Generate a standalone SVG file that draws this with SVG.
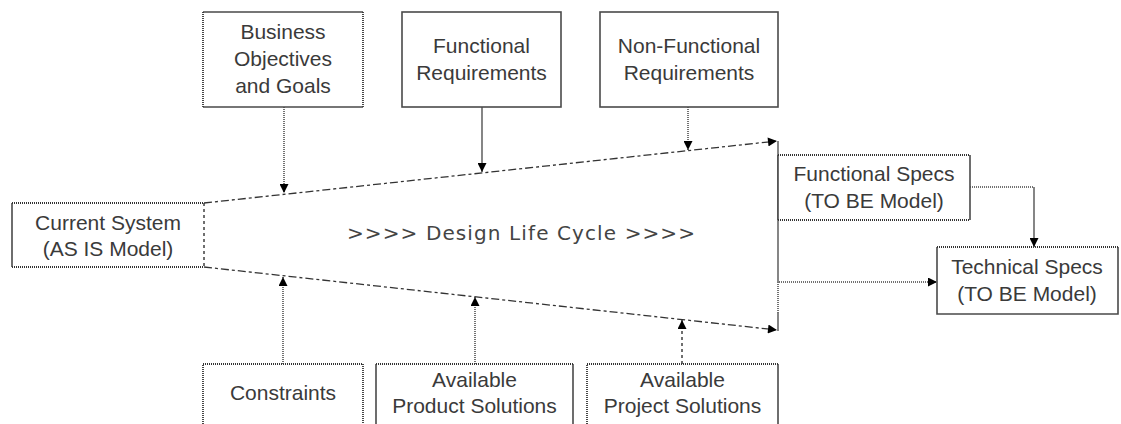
<svg xmlns="http://www.w3.org/2000/svg" width="1121" height="424" viewBox="0 0 1121 424">
<style>
.bg{fill:#fff;stroke:none}
.sol{fill:none;stroke:#4a4a4a;stroke-width:1.6}
.dot{fill:none;stroke:#333;stroke-width:1.8;stroke-dasharray:1 1}
.lbl{font-family:"Liberation Sans",Arial,sans-serif;font-size:21px;fill:#3a3a3a;text-anchor:middle}
.c{fill:none;stroke:#444;stroke-width:1.3}
.cd{fill:none;stroke:#444;stroke-width:1.5;stroke-dasharray:1 1}
.cdash{fill:none;stroke:#333;stroke-width:1.4;stroke-dasharray:3 3}
.fun{fill:none;stroke:#333;stroke-width:1.3;stroke-dasharray:8 3 3 3}
.title{font-family:"DejaVu Sans",Verdana,sans-serif;font-size:20px;fill:#444}
</style>
<defs>
<marker id="ah" viewBox="0 0 10 10" refX="10" refY="5" markerWidth="11" markerHeight="9" markerUnits="userSpaceOnUse" orient="auto">
<path d="M0,0 L10,5 L0,10 z" fill="#000"/>
</marker>
</defs>
<rect width="1121" height="424" fill="#fff"/>

<g id="connectors">
<path class="fun" d="M204,203 L777,141" marker-end="url(#ah)"/>
<path class="fun" d="M204,267 L777,330" marker-end="url(#ah)"/>
<path class="c" d="M778,141 L778,282"/>
<path class="cd" d="M778,282 L778,313"/>
<path class="c" d="M778,313 L778,331"/>
<path class="cd" d="M284,107 L284,193" marker-end="url(#ah)"/>
<path class="c" d="M482,107 L482,172" marker-end="url(#ah)"/>
<path class="cd" d="M688,107 L688,150" marker-end="url(#ah)"/>
<path class="cd" d="M283,364 L283,277" marker-end="url(#ah)"/>
<path class="cd" d="M475,364 L475,297" marker-end="url(#ah)"/>
<path class="cdash" d="M682,364 L682,320" marker-end="url(#ah)"/>
<path class="cd" d="M779,282 L937,282" marker-end="url(#ah)"/>
<path class="cd" d="M970,187 L1034,187"/>
<path class="c" d="M1034,187 L1034,247" marker-end="url(#ah)"/>
</g>

<g id="business-objectives">
<rect class="bg" x="203" y="12" width="160" height="95"/>
<path class="sol" d="M203,12 H363 M203,107 H363"/>
<path class="dot" d="M203,12 V107 M363,12 V107"/>
<text class="lbl" x="283" y="39">Business</text>
<text class="lbl" x="283" y="66">Objectives</text>
<text class="lbl" x="283" y="93">and Goals</text>
</g>

<g id="functional-requirements">
<rect class="bg sol" x="402" y="12" width="159" height="95"/>
<text class="lbl" x="481.5" y="53">Functional</text>
<text class="lbl" x="481.5" y="80">Requirements</text>
</g>

<g id="non-functional-requirements">
<rect class="bg sol" x="600" y="12" width="178" height="95"/>
<text class="lbl" x="689" y="53">Non-Functional</text>
<text class="lbl" x="689" y="80">Requirements</text>
</g>

<g id="current-system">
<rect class="bg" x="12" y="203" width="192" height="64"/>
<path class="sol" d="M12,203 V267"/>
<path class="dot" d="M12,203 H204 M12,267 H204"/>
<path class="cdash" d="M204,203 V267"/>
<text class="lbl" x="108" y="230">Current System</text>
<text class="lbl" x="108" y="256">(AS IS Model)</text>
</g>

<g id="design-life-cycle">
<text class="title" x="347" y="240" textLength="348" lengthAdjust="spacing">&gt;&gt;&gt;&gt; Design Life Cycle &gt;&gt;&gt;&gt;</text>
</g>

<g id="functional-specs">
<rect class="bg" x="778" y="155" width="192" height="65"/>
<path class="sol" d="M778,155 V220 M970,155 V220"/>
<path class="dot" d="M778,155 H970 M778,220 H970"/>
<text class="lbl" x="874" y="181">Functional Specs</text>
<text class="lbl" x="874" y="208">(TO BE Model)</text>
</g>

<g id="technical-specs">
<rect class="bg" x="937" y="247" width="181" height="67"/>
<path class="sol" d="M937,247 V314 H1118 V247"/>
<path class="dot" d="M937,247 H1118"/>
<text class="lbl" x="1027" y="274">Technical Specs</text>
<text class="lbl" x="1027" y="301">(TO BE Model)</text>
</g>

<g id="constraints">
<rect class="bg" x="203" y="364" width="160" height="80"/>
<path class="dot" d="M203,440 V364 H363 V440"/>
<text class="lbl" x="283" y="400">Constraints</text>
</g>

<g id="available-product-solutions">
<rect class="bg" x="376" y="364" width="197" height="80"/>
<path class="sol" d="M376,440 V364 M573,364 V440"/>
<path class="dot" d="M376,364 H573"/>
<text class="lbl" x="474.5" y="387">Available</text>
<text class="lbl" x="474.5" y="413">Product Solutions</text>
</g>

<g id="available-project-solutions">
<rect class="bg" x="587" y="364" width="191" height="80"/>
<path class="sol" d="M778,364 V440"/>
<path class="dot" d="M587,440 V364 H778"/>
<text class="lbl" x="682.5" y="387">Available</text>
<text class="lbl" x="682.5" y="413">Project Solutions</text>
</g>
</svg>
